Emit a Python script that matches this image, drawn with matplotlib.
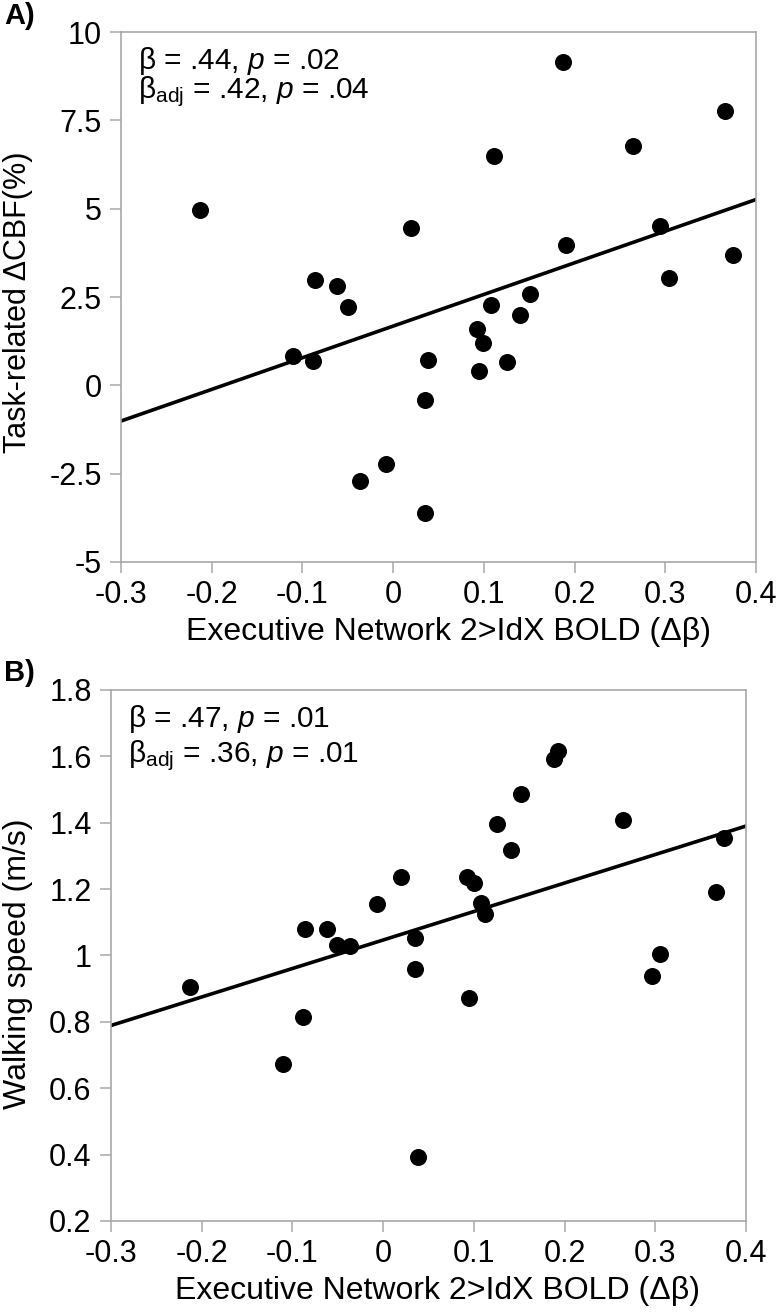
import numpy as np
import matplotlib
matplotlib.use('Agg')
import matplotlib.pyplot as plt

plt.rcParams['font.family'] = ['Liberation Sans', 'DejaVu Sans']
plt.rcParams['mathtext.fontset'] = 'custom'
plt.rcParams['mathtext.rm'] = 'Liberation Sans'
plt.rcParams['mathtext.it'] = 'Liberation Sans:italic'

# panel A: executive network BOLD vs task-related CBF change
bold_a = [-0.213, 0.187, 0.366, 0.264, 0.111, 0.020, 0.294, 0.191, 0.375, 0.304,
          -0.086, -0.062, -0.050, 0.151, 0.108, 0.140, 0.093, 0.099, -0.110, -0.088,
          0.038, 0.126, 0.095, 0.035, -0.008, -0.036, 0.035]
cbf_a = [4.97, 9.14, 7.77, 6.77, 6.49, 4.46, 4.50, 3.98, 3.70, 3.03,
         2.97, 2.80, 2.21, 2.59, 2.27, 1.99, 1.59, 1.19, 0.84, 0.70,
         0.71, 0.66, 0.41, -0.42, -2.23, -2.71, -3.60]
fit_x = [-0.3, 0.4]
fit_a = [-1.01, 5.26]

# panel B: executive network BOLD vs walking speed
bold_b = [-0.213, -0.110, -0.088, -0.086, -0.062, -0.051, -0.036, -0.007, 0.020, 0.035,
          0.035, 0.038, 0.093, 0.100, 0.108, 0.112, 0.095, 0.126, 0.141, 0.152,
          0.188, 0.193, 0.264, 0.296, 0.305, 0.367, 0.376]
speed_b = [0.905, 0.672, 0.816, 1.079, 1.081, 1.031, 1.029, 1.154, 1.237, 1.054,
           0.960, 0.394, 1.237, 1.218, 1.157, 1.126, 0.872, 1.396, 1.318, 1.487,
           1.592, 1.616, 1.409, 0.937, 1.005, 1.192, 1.355]
fit_b = [0.789, 1.39]

xticks = [-0.3, -0.2, -0.1, 0, 0.1, 0.2, 0.3, 0.4]
xticklabels = ['-0.3', '-0.2', '-0.1', '0', '0.1', '0.2', '0.3', '0.4']
yticks_a = [-5, -2.5, 0, 2.5, 5, 7.5, 10]
yticklabels_a = ['-5', '-2.5', '0', '2.5', '5', '7.5', '10']
yticks_b = [0.2, 0.4, 0.6, 0.8, 1.0, 1.2, 1.4, 1.6, 1.8]
yticklabels_b = ['0.2', '0.4', '0.6', '0.8', '1', '1.2', '1.4', '1.6', '1.8']

xlab = 'Executive Network 2>IdX BOLD (Δβ)'
gray = '#a8a8a8'

fig = plt.figure(figsize=(7.76, 13.14), dpi=100)
ax1 = fig.add_axes([0.1559, 0.5723, 0.8183, 0.4033])
ax2 = fig.add_axes([0.1430, 0.0708, 0.8183, 0.4041])


def style(ax, yticks, yticklabels, ylim):
    ax.set_xlim(-0.3, 0.4)
    ax.set_ylim(*ylim)
    ax.set_xticks(xticks)
    ax.set_xticklabels(xticklabels)
    ax.set_yticks(yticks)
    ax.set_yticklabels(yticklabels)
    for s in ax.spines.values():
        s.set_color(gray)
        s.set_linewidth(1.2)
    ax.tick_params(axis='both', direction='out', length=8, width=1.1, color=gray,
                   labelsize=22, labelcolor='black')
    ax.tick_params(axis='x', pad=5)
    ax.tick_params(axis='y', pad=6)


ax1.scatter(bold_a, cbf_a, s=150, color='black', zorder=3, linewidths=0)
ax1.plot(fit_x, fit_a, color='black', lw=2.6, zorder=2)
style(ax1, yticks_a, yticklabels_a, (-5, 10))
ax1.set_xlabel(xlab, fontsize=23)
ax1.xaxis.set_label_coords(0.515, -0.104)
ax1.set_ylabel('Task-related ΔCBF(%)', fontsize=22)
ax1.yaxis.set_label_coords(-0.138, 0.49)
ax1.text(0.027, 0.945, r'β = .44, $\mathit{p}$ = .02', transform=ax1.transAxes,
         fontsize=21.5, va='center', ha='left')
ax1.text(0.027, 0.888, r'β$_{\mathrm{adj}}$ = .42, $\mathit{p}$ = .04', transform=ax1.transAxes,
         fontsize=21.5, va='center', ha='left')

ax2.scatter(bold_b, speed_b, s=150, color='black', zorder=3, linewidths=0)
ax2.plot(fit_x, fit_b, color='black', lw=2.6, zorder=2)
style(ax2, yticks_b, yticklabels_b, (0.2, 1.8))
ax2.set_xlabel(xlab, fontsize=23)
ax2.xaxis.set_label_coords(0.515, -0.104)
ax2.set_ylabel('Walking speed (m/s)', fontsize=23)
ax2.yaxis.set_label_coords(-0.122, 0.485)
ax2.text(0.027, 0.945, r'β = .47, $\mathit{p}$ = .01', transform=ax2.transAxes,
         fontsize=21.5, va='center', ha='left')
ax2.text(0.027, 0.876, r'β$_{\mathrm{adj}}$ = .36, $\mathit{p}$ = .01', transform=ax2.transAxes,
         fontsize=21.5, va='center', ha='left')

fig.text(0.005, 0.988, 'A)', fontsize=21, fontweight='bold', va='center', ha='left')
fig.text(0.005, 0.488, 'B)', fontsize=21, fontweight='bold', va='center', ha='left')

fig.savefig('out.png', dpi=100)
